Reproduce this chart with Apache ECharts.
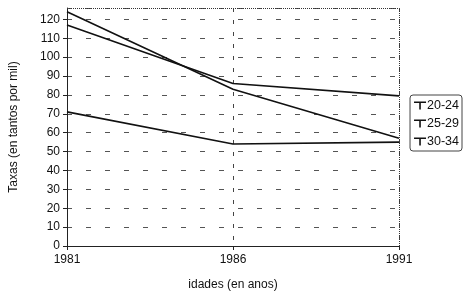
<!DOCTYPE html>
<html>
<head>
<meta charset="utf-8">
<script src="https://cdn.jsdelivr.net/npm/echarts@6/dist/echarts.min.js"></script>
<style>
  body { margin: 0; background: #fff; }
  #main { width: 464px; height: 296px; }
</style>
</head>
<body>
<div id="main"></div>
<script>
var years = [1981, 1986, 1991];
var seriesNames = ['20-24', '25-29', '30-34'];
var g2024 = [124, 83, 57];
var g2529 = [117, 86, 79.5];
var g3034 = [71, 54, 55];

function mkSeries(name, vals) {
  return {
    name: name,
    type: 'line',
    data: years.map(function (y, i) { return [y, vals[i]]; }),
    symbol: 'none',
    lineStyle: { color: '#111', width: 1.6 },
    itemStyle: { color: '#111' }
  };
}

var chart = echarts.init(document.getElementById('main'));
chart.setOption({
  animation: false,
  textStyle: { fontFamily: 'Liberation Sans, Arial, sans-serif', color: '#111' },
  grid: { left: 67, right: 65, top: 8, bottom: 49 },
  legend: {
    orient: 'vertical',
    right: 2,
    top: 95,
    data: seriesNames,
    icon: 'path://M0,0 L12,0 L12,1.5 L6.8,1.5 L6.8,8 L5.2,8 L5.2,1.5 L0,1.5 Z',
    itemWidth: 12,
    itemHeight: 8,
    itemGap: 5,
    padding: [4, 3, 3, 4],
    borderColor: '#444',
    borderWidth: 1,
    borderRadius: 3,
    textStyle: { fontSize: 12.5, color: '#111', padding: [0, 0, 0, -4] }
  },
  xAxis: {
    type: 'value',
    min: 1981,
    max: 1991,
    interval: 5,
    name: 'idades (en anos)',
    nameLocation: 'middle',
    nameGap: 33,
    nameTextStyle: { fontSize: 12, color: '#111' },
    axisLine: { lineStyle: { color: '#222', width: 1 } },
    axisTick: { show: true, inside: false, length: 4, lineStyle: { color: '#222' } },
    axisLabel: { fontSize: 12, color: '#111', margin: 8, formatter: function (v) { return String(v); } },
    splitLine: { show: true, lineStyle: { color: '#444', type: [4, 8], width: 1 } }
  },
  yAxis: {
    type: 'value',
    min: 0,
    max: 126,
    interval: 10,
    name: 'Taxas (en tantos por mil)',
    nameLocation: 'middle',
    nameGap: 47,
    nameTextStyle: { fontSize: 12, color: '#111' },
    axisLine: { show: true, lineStyle: { color: '#222', width: 1 } },
    axisTick: { show: true, length: 4, lineStyle: { color: '#222' } },
    axisLabel: { fontSize: 12, color: '#111', margin: 7, showMaxLabel: false },
    splitLine: { show: true, lineStyle: { color: '#555', type: [5, 14], width: 1 } }
  },
  series: [
    mkSeries(seriesNames[0], g2024),
    mkSeries(seriesNames[1], g2529),
    mkSeries(seriesNames[2], g3034),
    {
      type: 'line',
      data: [],
      markLine: {
        silent: true,
        symbol: 'none',
        label: { show: false },
        lineStyle: { color: '#333', type: 'dotted', width: 1 },
        data: [{ yAxis: 126 }, { xAxis: 1991 }]
      }
    }
  ]
});
</script>
</body>
</html>
